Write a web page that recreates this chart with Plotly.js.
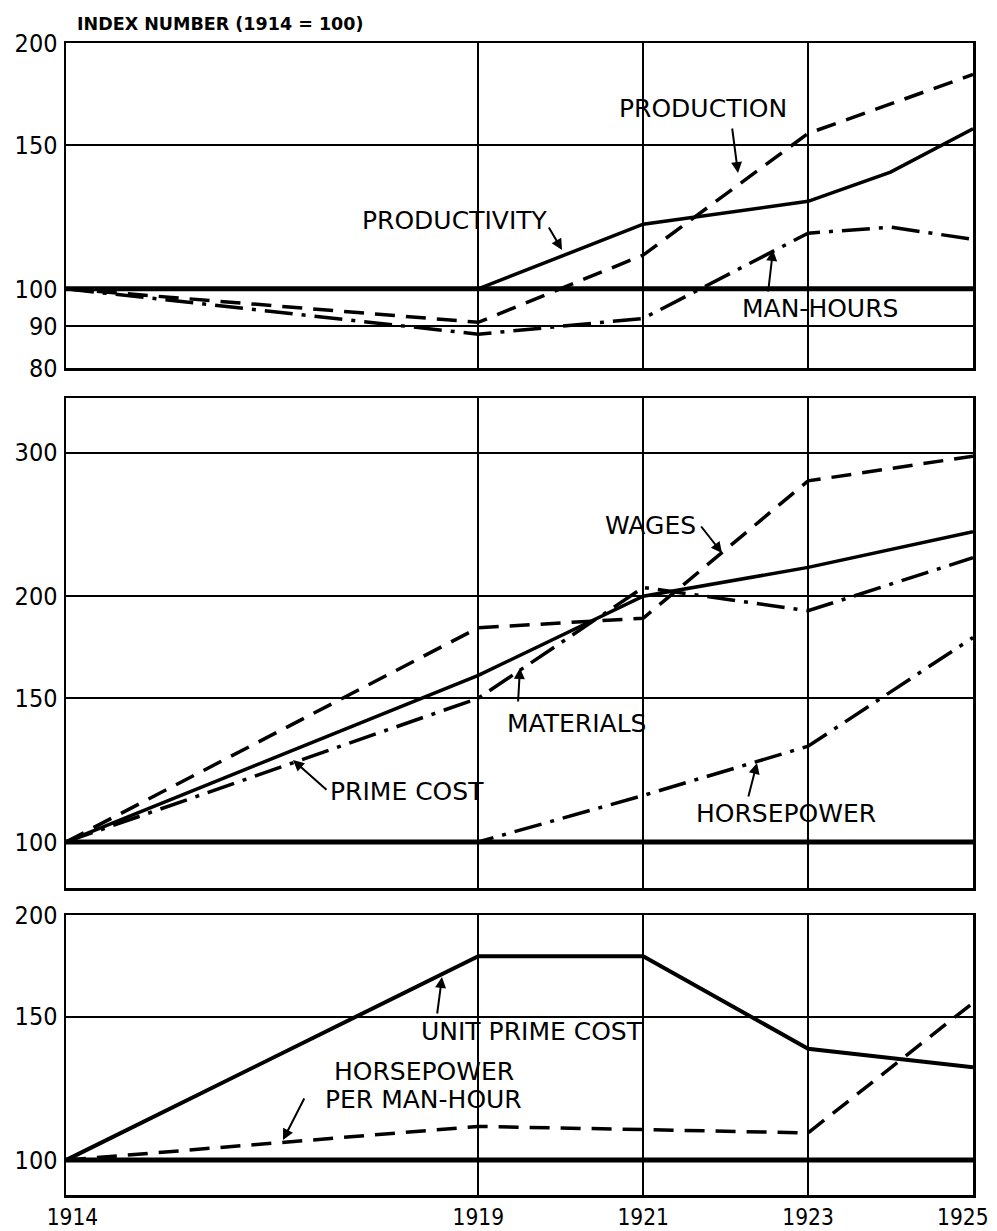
<!DOCTYPE html>
<html>
<head>
<meta charset="utf-8">
<script src="https://cdn.plot.ly/plotly-3.0.1.min.js"></script>
<style>html,body{margin:0;padding:0;background:#fff;}#chart{width:997px;height:1231px;}</style>
</head>
<body>
<div id="chart"></div>
<script>
// ---------- DATA ----------
// Panel 1: production, man-hours, productivity
const prodYears = [1914, 1919, 1921, 1923, 1925];
const production = [100, 91, 110, 155, 183];
const manHoursYears = [1914, 1919, 1921, 1923, 1924, 1925];
const manHours = [100, 88, 92, 117, 119, 115];
const productivityYears = [1914, 1919, 1921, 1923, 1924, 1925];
const productivity = [100, 100, 120, 128, 139, 157];

// Panel 2: costs and horsepower
const costYears = [1914, 1919, 1921, 1923, 1925];
const wages = [100, 183, 188, 277, 297];
const primeCost = [100, 160, 200, 217, 240];
const materials = [100, 150, 205, 192, 223];
const horsepower = [100, 100, 114, 131, 178];

// Panel 3: unit prime cost, horsepower per man-hour
const unitYears = [1914, 1919, 1921, 1923, 1925];
const unitPrimeCost = [100, 178, 178, 137, 130];
const hpPerManHour = [100, 110, 109, 108, 156];

// Axis ticks
const yearTicks = [1914, 1919, 1921, 1923, 1925];
const yearLabels = ['\u00a0\u00a01914', '1919', '1921', '1923', ''];
const lastYear = 1925;
const lastYearLabel = '1925';
const ticks1 = [80, 90, 100, 150, 200];
const ticks2 = [100, 150, 200, 300];
const ticks3 = [100, 150, 200];
const baseValue = 100;

// ---------- STYLE ----------
const FONT = 'DejaVu Sans, sans-serif';
const TICKFONT = 'DejaVu Sans Condensed, DejaVu Sans, sans-serif';
const DASH = '20px,11px';
const DASHDOT = '28px,9px,4px,9px';
const LW = 3.5;

function tr(x, y, xa, ya, dash, w) {
  return {x: x, y: y, xaxis: xa, yaxis: ya, mode: 'lines', type: 'scatter',
          line: {color: '#000', width: w || LW, dash: dash || 'solid'},
          hoverinfo: 'skip', showlegend: false};
}

const data = [
  tr(productivityYears, productivity, 'x', 'y', 'solid'),
  tr(prodYears, production, 'x', 'y', DASH),
  tr(manHoursYears, manHours, 'x', 'y', DASHDOT),
  tr(costYears, wages, 'x2', 'y2', DASH),
  tr(costYears, primeCost, 'x2', 'y2', 'solid'),
  tr(costYears, materials, 'x2', 'y2', DASHDOT),
  tr(costYears, horsepower, 'x2', 'y2', DASHDOT),
  tr(unitYears, unitPrimeCost, 'x3', 'y3', 'solid', 4),
  tr(unitYears, hpPerManHour, 'x3', 'y3', DASH)
];

function xax(anchor, showLabels) {
  return {
    domain: [0, 1], anchor: anchor, range: [1914, 1925],
    tickmode: 'array', tickvals: yearTicks, ticktext: yearLabels,
    showticklabels: showLabels, ticks: '', ticklabelstandoff: 0,
    ticklabeloverflow: 'allow',
    showgrid: true, gridcolor: '#000', gridwidth: 2,
    showline: true, mirror: true, linecolor: '#000', linewidth: 2.5,
    zeroline: false, tickfont: {family: TICKFONT, size: 22.5, color: '#000'},
    fixedrange: true
  };
}
function yax(anchor, domain, lo, hi, tv) {
  return {
    domain: domain, anchor: anchor, type: 'log',
    range: [Math.log10(lo), Math.log10(hi)],
    tickmode: 'array', tickvals: tv, ticktext: tv.map(String),
    ticks: '', ticklabelstandoff: 1,
    showgrid: true, gridcolor: '#000', gridwidth: 2,
    showline: true, mirror: true, linecolor: '#000', linewidth: 2.5,
    zeroline: false, tickfont: {family: TICKFONT, size: 25, color: '#000'},
    fixedrange: true
  };
}

// px -> paper helpers (plot area: x 66..973, y 43..1195)
const L = 66, R = 973, T = 43, B = 1195;
const px = v => (v - L) / (R - L);
const py = v => (B - v) / (B - T);

function label(text, cx, cy) {
  return {text: text, xref: 'paper', yref: 'paper', x: px(cx), y: py(cy),
          xanchor: 'center', yanchor: 'middle', showarrow: false,
          font: {family: FONT, size: 25, color: '#000'}};
}
function arrow(tipX, tipY, tailX, tailY) {
  return {text: '', xref: 'paper', yref: 'paper', x: px(tipX), y: py(tipY),
          ax: tailX - tipX, ay: tailY - tipY, showarrow: true,
          arrowhead: 2, arrowsize: 1.1, arrowwidth: 2, arrowcolor: '#000'};
}

const annotations = [
  label('PRODUCTION', 703, 108), arrow(738, 173, 732, 127),
  label('PRODUCTIVITY', 455, 221), arrow(562, 250, 548, 226),
  label('MAN-HOURS', 820, 308), arrow(773, 250, 768, 293),
  label('WAGES', 650, 525), arrow(722, 553, 700, 525),
  label('MATERIALS', 576, 723), arrow(520, 668, 518, 703),
  label('PRIME COST', 407, 791), arrow(293, 760, 328, 791),
  label('HORSEPOWER', 786, 813), arrow(757, 763, 748, 798),
  label('UNIT PRIME COST', 532, 1031), arrow(442, 977, 437, 1015),
  label('HORSEPOWER', 424, 1071),
  label('PER MAN-HOUR', 423, 1099), arrow(283, 1140, 305, 1097),
  // last year tick label, kept inside the page edge like the original
  {text: lastYearLabel, xref: 'x3', yref: 'paper', x: lastYear, y: py(1217),
   xanchor: 'right', yanchor: 'middle', xshift: 18, showarrow: false,
   font: {family: TICKFONT, size: 22.5, color: '#000'}}
];

function baseLine(xa, ya) {
  return {type: 'line', xref: xa + ' domain', yref: ya, x0: 0, x1: 1,
          y0: baseValue, y1: baseValue, line: {color: '#000', width: 5}, layer: 'above'};
}

const layout = {
  width: 997, height: 1231,
  margin: {l: L, r: 997 - R, t: T, b: 1231 - B, pad: 0},
  paper_bgcolor: '#fff', plot_bgcolor: '#fff',
  showlegend: false,
  title: {text: 'INDEX NUMBER (1914 = 100)', x: 77 / 997, xanchor: 'left',
          y: 1 - 24 / 1231, yanchor: 'middle',
          font: {family: FONT, size: 17.5, color: '#000', weight: 'bold'}},
  xaxis: xax('y', false),
  yaxis: yax('x', [py(368), 1], 80, 200, ticks1),
  xaxis2: xax('y2', false),
  yaxis2: yax('x2', [py(888), py(398)], 87.8, 350, ticks2),
  xaxis3: xax('y3', true),
  yaxis3: yax('x3', [0, py(915)], 90.6, 200, ticks3),
  shapes: [baseLine('x', 'y'), baseLine('x2', 'y2'), baseLine('x3', 'y3')],
  annotations: annotations
};

Plotly.newPlot('chart', data, layout, {staticPlot: true, displayModeBar: false});
</script>
</body>
</html>
